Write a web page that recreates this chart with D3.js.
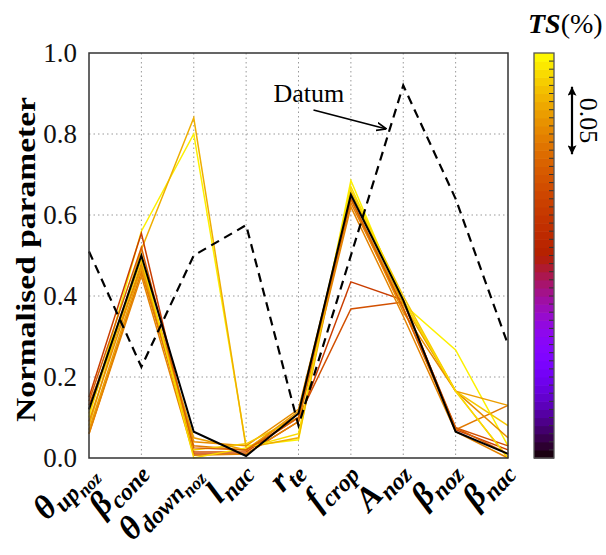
<!DOCTYPE html>
<html><head><meta charset="utf-8">
<script src="https://cdn.jsdelivr.net/npm/d3@7"></script>
<style>body{margin:0;background:#fff}</style>
</head><body>
<script>
// categories along the x axis
var categories = ["thetaUpNoz","betaCone","thetaDownNoz","lNac","rTe","fCrop","ANoz","betaNoz","betaNac"];
var labelMain = ["θ","β","θ","l","r","f","A","β","β"];
var labelSub = ["up","cone","down","nac","te","crop","noz","noz","nac"];
var labelSubSub = ["noz","","noz","","","","","",""];
var yTicks = [0, 0.2, 0.4, 0.6, 0.8, 1.0];

// datum design (dashed)
var datum = [0.51, 0.225, 0.50, 0.575, 0.08, 0.50, 0.92, 0.64, 0.28];

// TS (%) of each run, and its normalised parameters
var runTS = [0.294, 0.264, 0.186, 0.204, 0.234, 0.246, 0.276, 0.255, 0.240, 0.285, 0.216, 0.0];
var runValues = [
	[0.10, 0.56, 0.80, 0.030, 0.045, 0.685, 0.38, 0.267, 0.03],
	[0.08, 0.515, 0.84, 0.025, 0.05, 0.66, 0.39, 0.165, 0.0],
	[0.15, 0.555, 0.01, 0.010, 0.09, 0.435, 0.39, 0.070, 0.02],
	[0.13, 0.47, 0.015, 0.015, 0.10, 0.368, 0.385, 0.075, 0.03],
	[0.06, 0.46, 0.03, 0.020, 0.11, 0.63, 0.37, 0.070, 0.13],
	[0.09, 0.48, 0.04, 0.030, 0.12, 0.64, 0.36, 0.165, 0.05],
	[0.11, 0.49, 0.02, 0.035, 0.10, 0.66, 0.40, 0.165, 0.08],
	[0.07, 0.47, 0.05, 0.020, 0.115, 0.64, 0.38, 0.165, 0.13],
	[0.06, 0.45, 0.007, 0.010, 0.09, 0.62, 0.35, 0.065, 0.0],
	[0.12, 0.50, 0.0, 0.025, 0.06, 0.67, 0.39, 0.165, 0.0],
	[0.14, 0.52, 0.025, 0.020, 0.10, 0.64, 0.37, 0.075, 0.01],
	[0.12, 0.50, 0.065, 0.005, 0.11, 0.65, 0.39, 0.065, 0.01]
];
var tsRange = [0, 0.3];
var tsArrow = [0.225, 0.275];

var W = 606, H = 555;
var plot = {left: 89, right: 508, top: 53, bottom: 458};
var serif = "Liberation Serif";

var svg = d3.select("body").append("svg")
	.attr("width", W)
	.attr("height", H);

var x = d3.scalePoint().domain(categories).range([plot.left, plot.right]);
var y = d3.scaleLinear().domain([0, 1]).range([plot.bottom, plot.top]);
var ts = d3.scaleLinear().domain(tsRange).range([plot.bottom, plot.top]);

// gnuplot style palette (rgbformulae 7,5,15)
function palette(t) {
	t = Math.max(0, Math.min(1, t));
	var r = Math.sqrt(t), g = t * t * t, b = Math.max(0, Math.sin(2 * Math.PI * t));
	return d3.rgb(r * 255, g * 255, b * 255).toString();
}
var tsColor = function(v) { return palette((v - tsRange[0]) / (tsRange[1] - tsRange[0])); };

// grid
svg.append("g").selectAll("line")
	.data(categories.slice(1, -1))
	.enter().append("line")
	.attr("x1", d => x(d)).attr("x2", d => x(d))
	.attr("y1", plot.top).attr("y2", plot.bottom)
	.attr("stroke", "#999").attr("stroke-width", 1).attr("stroke-dasharray", "1.5,3");
svg.append("g").selectAll("line")
	.data(yTicks.slice(1, -1))
	.enter().append("line")
	.attr("x1", plot.left).attr("x2", plot.right)
	.attr("y1", d => y(d)).attr("y2", d => y(d))
	.attr("stroke", "#999").attr("stroke-width", 1).attr("stroke-dasharray", "1.5,3");

// y axis labels
var yAxis = d3.axisLeft(y).tickValues(yTicks).tickSize(0).tickPadding(12).tickFormat(d3.format(".1f"));
var gy = svg.append("g").attr("transform", "translate(" + plot.left + ",0)").call(yAxis);
gy.attr("font-family", serif);
gy.select(".domain").remove();
gy.selectAll("text").attr("font-size", 27).attr("fill", "#111");

// runs
var line = d3.line().x((d, i) => x(categories[i])).y(d => y(d));
svg.append("g").selectAll("path")
	.data(d3.range(runValues.length))
	.enter().append("path")
	.attr("d", i => line(runValues[i]))
	.attr("fill", "none")
	.attr("stroke", i => tsColor(runTS[i]))
	.attr("stroke-width", i => runTS[i] === 0 ? 2 : 1.5);

// datum
svg.append("path")
	.attr("d", line(datum))
	.attr("fill", "none")
	.attr("stroke", "#000")
	.attr("stroke-width", 2.2)
	.attr("stroke-dasharray", "9,6");

// frame
svg.append("rect")
	.attr("x", plot.left).attr("y", plot.top)
	.attr("width", plot.right - plot.left).attr("height", plot.bottom - plot.top)
	.attr("fill", "none").attr("stroke", "#333").attr("stroke-width", 1.5);

// x labels: each part a centred, rotated text placed along the slanted baseline
var angle = -47, rad = angle * Math.PI / 180;
var u = [Math.cos(rad), Math.sin(rad)], nrm = [-Math.sin(rad), Math.cos(rad)];
var gx = svg.append("g");
categories.forEach(function(c, i) {
	var parts = [[labelMain[i], 34, 0], [labelSub[i], 24, 7], [labelSubSub[i], 18, 12]].filter(p => p[0]);
	var nodes = parts.map(p => gx.append("text")
		.attr("text-anchor", "middle")
		.attr("font-family", serif)
		.attr("font-weight", "bold")
		.attr("font-style", "italic")
		.attr("font-size", p[1])
		.attr("fill", "#000")
		.text(p[0]));
	var widths = nodes.map(t => t.node().getComputedTextLength());
	var total = d3.sum(widths);
	var ex = x(c) + 5, ey = plot.bottom + 13;
	var acc = 0;
	nodes.forEach(function(t, k) {
		var s = acc + widths[k] / 2 - total;
		var px = ex + s * u[0] + parts[k][2] * nrm[0];
		var py = ey + s * u[1] + parts[k][2] * nrm[1];
		t.attr("transform", "translate(" + px.toFixed(1) + "," + py.toFixed(1) + ") rotate(" + angle + ")");
		acc += widths[k];
	});
});

// y title
svg.append("text")
	.attr("transform", "translate(35," + ((plot.top + plot.bottom) / 2 + 4) + ") rotate(-90)")
	.attr("text-anchor", "middle")
	.attr("font-family", serif)
	.attr("font-size", 27)
	.attr("font-weight", "bold")
	.attr("textLength", 325)
	.attr("lengthAdjust", "spacingAndGlyphs")
	.text("Normalised parameter");

// datum annotation
var defs = svg.append("defs");
defs.append("marker")
	.attr("id", "vhead").attr("viewBox", "0 -5 10 10")
	.attr("refX", 10).attr("refY", 0)
	.attr("markerWidth", 10).attr("markerHeight", 10)
	.attr("markerUnits", "userSpaceOnUse")
	.attr("orient", "auto")
	.append("path").attr("d", "M0,-4L10,0L0,4").attr("fill", "none").attr("stroke", "#000").attr("stroke-width", 1.6);
var tipX = x("fCrop") + 0.68 * (x("ANoz") - x("fCrop"));
var tipY = y(0.80) - 5;
svg.append("line")
	.attr("x1", tipX - 73).attr("y1", tipY - 19)
	.attr("x2", tipX).attr("y2", tipY)
	.attr("stroke", "#000").attr("stroke-width", 1.8)
	.attr("marker-end", "url(#vhead)");
svg.append("text")
	.attr("x", tipX - 113).attr("y", tipY - 27)
	.attr("font-family", serif)
	.attr("font-size", 26)
	.text("Datum");

// colour bar
var cb = {x: 534, w: 20, n: 50};
var steps = d3.range(cb.n).map(i => tsRange[0] + (i + 0.5) * (tsRange[1] - tsRange[0]) / cb.n);
var stepH = (plot.bottom - plot.top) / cb.n;
svg.append("g").selectAll("rect")
	.data(steps)
	.enter().append("rect")
	.attr("x", cb.x).attr("width", cb.w)
	.attr("y", d => ts(d) - stepH / 2).attr("height", stepH + 0.6)
	.attr("fill", d => tsColor(d));
svg.append("g").selectAll("line")
	.data(d3.range(1, cb.n))
	.enter().append("line")
	.attr("x1", cb.x + cb.w - 5).attr("x2", cb.x + cb.w)
	.attr("y1", i => ts(tsRange[0] + i * (tsRange[1] - tsRange[0]) / cb.n))
	.attr("y2", i => ts(tsRange[0] + i * (tsRange[1] - tsRange[0]) / cb.n))
	.attr("stroke", "#333").attr("stroke-width", 1);
svg.append("rect")
	.attr("x", cb.x).attr("y", plot.top)
	.attr("width", cb.w).attr("height", plot.bottom - plot.top)
	.attr("fill", "none").attr("stroke", "#555").attr("stroke-width", 1.3);

// TS title
var tt = svg.append("text").attr("x", 528).attr("y", 33).attr("font-size", 28).attr("font-family", serif);
tt.append("tspan").attr("font-weight", "bold").attr("font-style", "italic").text("TS");
tt.append("tspan").text("(%)");

// 0.05 scale arrow
defs.append("marker")
	.attr("id", "fhead").attr("viewBox", "0 -5 10 10")
	.attr("refX", 10).attr("refY", 0)
	.attr("markerWidth", 9).attr("markerHeight", 9)
	.attr("markerUnits", "userSpaceOnUse")
	.attr("orient", "auto-start-reverse")
	.append("path").attr("d", "M0,-5L10,0L0,5L2,0Z").attr("fill", "#000");
svg.append("line")
	.attr("x1", 572).attr("x2", 572)
	.attr("y1", ts(tsArrow[1])).attr("y2", ts(tsArrow[0]))
	.attr("stroke", "#000").attr("stroke-width", 2.2)
	.attr("marker-start", "url(#fhead)").attr("marker-end", "url(#fhead)");
svg.append("text")
	.attr("transform", "translate(580," + ts((tsArrow[0] + tsArrow[1]) / 2) + ") rotate(90)")
	.attr("text-anchor", "middle")
	.attr("font-family", serif)
	.attr("font-size", 26)
	.text("0.05");
</script>
</body></html>
